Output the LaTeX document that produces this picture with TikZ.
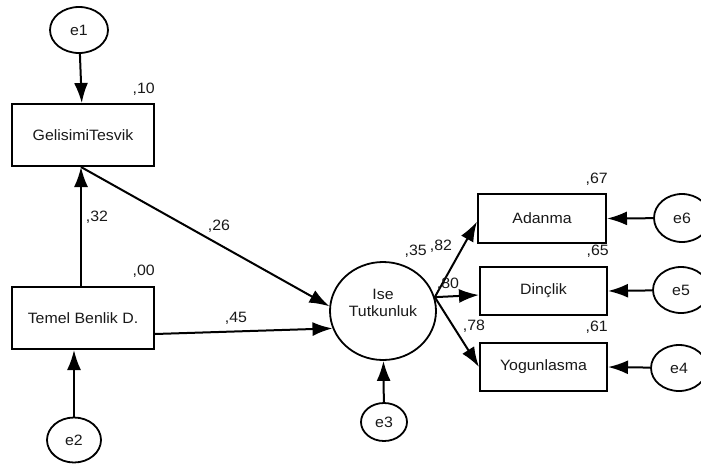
\documentclass[tikz,border=0pt]{standalone}
\usepackage{fontspec}
\setmainfont{Liberation Sans}[FakeStretch=1.06]
\usetikzlibrary{arrows.meta,shapes.geometric}

\tikzset{
  every node/.style={font=\fontsize{15}{17}\selectfont, text=black!90},
  obs/.style={draw=black, line width=2pt, rectangle, inner sep=0pt},
  lat/.style={draw=black, line width=1.8pt, ellipse, inner sep=0pt},
  path/.style={draw=black, line width=2pt, -{Latex[length=20pt,width=14pt]}},
  est/.style={inner sep=0pt, anchor=south east},
  coef/.style={inner sep=0pt}
}

\begin{document}
\begin{tikzpicture}[x=1pt, y=-1pt]
  \useasboundingbox (0,0) rectangle (701,464);

  % exogenous and mediating observed variables
  \node[obs, minimum width=142pt, minimum height=62pt] (gel) at (83,135) {GelisimiTesvik};
  \node[obs, minimum width=142pt, minimum height=62pt] (tem) at (83,318) {Temel Benlik D.};

  % latent outcome
  \node[lat, minimum width=106pt, minimum height=98pt] (ise) at (383,311) {};
  \node[align=center, inner sep=0pt] (isetxt) at (383,303) {Ise\\Tutkunluk};

  % indicators
  \node[obs, minimum width=128pt, minimum height=49pt] (ada) at (542,218.5) {Adanma};
  \node[obs, minimum width=127pt, minimum height=48pt] (din) at (543.5,291) {Dinçlik};
  \node[obs, minimum width=127pt, minimum height=48pt] (yog) at (543.5,367) {Yogunlasma};

  % error terms
  \node[lat, minimum width=58pt, minimum height=46pt] (e1) at (79,30) {e1};
  \node[lat, minimum width=54pt, minimum height=45pt] (e2) at (74,440) {e2};
  \node[lat, minimum width=46pt, minimum height=38pt] (e3) at (384,422) {e3};
  \node[lat, minimum width=56pt, minimum height=48pt] (e6) at (682,218) {e6};
  \node[lat, minimum width=56pt, minimum height=46pt] (e5) at (681,290) {e5};
  \node[lat, minimum width=56pt, minimum height=46pt] (e4) at (679,368) {e4};

  % structural paths
  \draw[path] (e1) -- (gel);
  \draw[path] (tem.north -| 81,0) -- (gel.south -| 81,0);
  \draw[path] (e2) -- (tem.south -| e2);
  \draw[path] (gel.south -| 81,0) -- (ise.175);
  \draw[path] ([yshift=-16pt]tem.east) -- (ise.199);
  \draw[path] (e3) -- (ise);

  % measurement paths
  \draw[path] (ise.15) -- ([yshift=-3pt]ada.west);
  \draw[path] (ise.15) -- ([yshift=-4pt]din.west);
  \draw[path] (ise.15) -- (yog.west);
  \draw[path] (e6) -- (ada.east);
  \draw[path] (e5) -- (din.east);
  \draw[path] (e4) -- (yog.east);

  % squared multiple correlations
  \node[est] (r10) at ([yshift=7pt]gel.north east) {,10};
  \node[est] (r00) at ([yshift=8pt]tem.north east) {,00};
  \node[est] (r67) at ([xshift=1pt,yshift=7pt]ada.north east) {,67};
  \node[est] (r65) at ([xshift=1pt,yshift=8pt]din.north east) {,65};
  \node[est] (r61) at ([yshift=8pt]yog.north east) {,61};
  \node[est] (r35) at (427,258) {,35};

  % path coefficients
  \node[coef] (c32) at (97,217) {,32};
  \node[coef] (c26) at (219,226) {,26};
  \node[coef] (c45) at (236,318) {,45};
  \node[coef] (c82) at (441,246) {,82};
  \node[coef] (c80) at (448,284) {,80};
  \node[coef] (c78) at (474,326) {,78};
\end{tikzpicture}
\end{document}
